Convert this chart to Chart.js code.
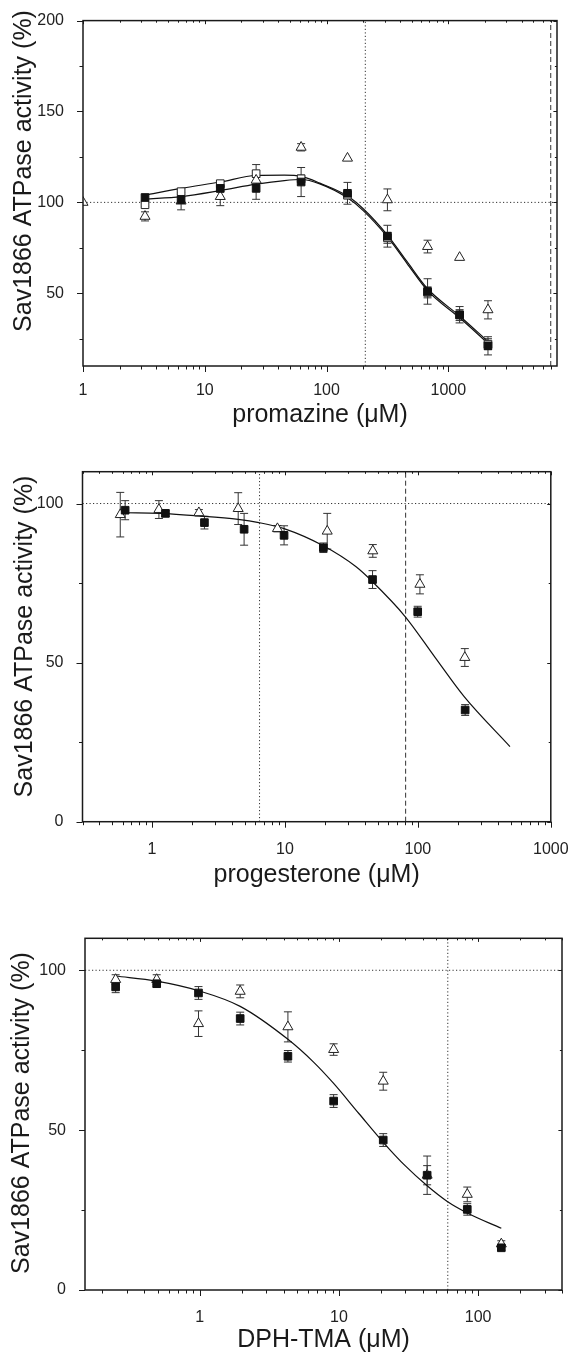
<!DOCTYPE html>
<html>
<head>
<meta charset="utf-8">
<script src="https://cdn.jsdelivr.net/npm/chart.js@4.4.1/dist/chart.umd.min.js"></script>
<style>
  html, body { margin: 0; padding: 0; background: #fff; }
  #wrap { position: relative; width: 579px; height: 1363px; }
  canvas { position: absolute; left: 0; }
</style>
</head>
<body>
<div id="wrap">
  <canvas id="promazine" width="579" height="440" style="top:0"></canvas>
  <canvas id="progesterone" width="579" height="455" style="top:440px"></canvas>
  <canvas id="dph" width="579" height="468" style="top:895px"></canvas>
</div>
<script>
// promazine
const promConc = [3.23, 6.39, 13.4, 26.4, 61.8, 148.5, 316, 675, 1237, 2115]
const promFilled = [102.7, 101.5, 107.7, 107.7, 111.2, 105, 81.4, 51, 38.2, 21.1]
const promFilledErr = [0, 1.5, 2, 6, 8, 6, 6, 7, 4.5, 5]
const promOpen = [98.7, 105.9, 110.3, 115.8, 113, 104, 80.5, 50.5, 38, 22]
const promOpenErr = [1, 1.5, 1.5, 5, 2, 2, 3, 3, 3, 3]
const promTriConc = [1, 3.23, 6.39, 13.4, 26.4, 61.8, 148.5, 316, 675, 1237, 2115]
const promTri = [100, 92.3, 100.7, 103.2, 112.2, 130.3, 124.3, 101.4, 75.7, 69.7, 40.9]
const promTriErr = [0, 2.5, 4.8, 5, 2, 2, 0, 6, 3.5, 0, 5]
const promFitConc = [3.23, 6.39, 13.4, 26.4, 45, 62, 88, 148.5, 200, 316, 457, 675, 1237, 2115]
const promFitOpen = [103.9, 107.7, 111.2, 114.8, 115, 114.3, 110.6, 103.5, 96.5, 82, 67.5, 52.5, 37.5, 23.5]
const promFitFilled = [101.8, 103.2, 106.5, 110, 112, 112.6, 110.2, 102.5, 95.5, 81, 66.5, 51.5, 36.5, 22.5]
const promDotted = 208
const promDashed = 6930
const promXMajor = [1, 10, 100, 1000]
const promYMajor = [50, 100, 150, 200]
const promYMinor = [25, 75, 125, 175]

// progesterone
const progConcF = [0.628, 1.262, 2.48, 4.93, 9.85, 19.45, 45.6, 99.7, 226.8]
const progFilled = [97.9, 96.9, 94, 91.9, 90, 86.1, 76.1, 66, 35.1]
const progFilledErr = [3, 1, 2, 5, 3, 1.5, 2.8, 1.7, 1.7]
const progConcT = [0.577, 1.127, 2.253, 4.45, 8.78, 20.8, 45.8, 103.6, 225.5]
const progTri = [96.5, 98.1, 97.1, 98.4, 92.1, 91.3, 85.1, 74.6, 51.6]
const progTriErr = [7, 2.8, 1, 5, 1, 5.6, 2, 3, 2.8]
const progFitConc = [0.628, 1.14, 2.25, 4.45, 6.36, 9.85, 19.45, 34.3, 45.6, 80.5, 133.8, 223, 493]
const progFit = [97.1, 96.9, 96.1, 95, 94, 92.1, 86.7, 80.1, 75.4, 64.4, 51.8, 39.3, 23.6]
const progDotted = 6.44
const progDashed = 80.9
const progXMajor = [1, 10, 100, 1000]
const progYMajor = [0, 50, 100]
const progYMinor = [25, 75]

// DPH-TMA
const dphConc = [0.249, 0.491, 0.98, 1.953, 4.3, 9.16, 20.8, 43, 83.5, 146.6]
const dphFilled = [94.8, 95.8, 92.9, 84.9, 73.1, 59.1, 46.9, 35.9, 25.2, 13.2]
const dphFilledErr = [1.8, 1, 2, 2, 1.8, 2, 2, 3, 1.8, 0.8]
const dphTri = [97.1, 97.1, 83.3, 93.4, 82.3, 75.2, 65.3, 35.9, 29.9, 14.4]
const dphTriErr = [1.5, 1.5, 4, 2, 4.7, 1.8, 2.8, 6, 2.3, 1]
const dphFitConc = [0.249, 0.491, 0.98, 1.953, 4.3, 6.6, 9.16, 13.9, 20.8, 30, 43, 60, 83.5, 146.6]
const dphFit = [98.2, 96.6, 93.6, 88.7, 78.4, 71.2, 64.6, 55.2, 46.2, 38.8, 32.6, 27.7, 24.1, 19.3]
const dphDotted = 60.5
const dphXMajor = [1, 10, 100]
const dphYMajor = [0, 50, 100]
const dphYMinor = [25, 75]

Chart.defaults.font.family = '"Liberation Sans", Arial, Helvetica, sans-serif'
Chart.defaults.color = '#1a1a1a'
Chart.defaults.animation = false

const filledSquare = { pointStyle: 'rect', pointRadius: 5.4, backgroundColor: '#111', borderColor: '#111' }
const openSquare = { pointStyle: 'rect', pointRadius: 5.4, backgroundColor: '#fff', borderColor: '#222' }
const openTriangle = { pointStyle: 'triangle', pointRadius: 5.8, backgroundColor: '#fff', borderColor: '#222' }

function points(xs, ys) {
    return xs.map((x, i) => ({ x: x, y: ys[i] }))
}

function markers(xs, ys, errs, style) {
    return Object.assign({
        data: points(xs, ys),
        errors: errs,
        showLine: false,
        borderWidth: 1,
        clip: 0,
        pointHoverRadius: style.pointRadius,
    }, style)
}

function fitLine(xs, ys) {
    return {
        data: points(xs, ys),
        showLine: true,
        pointRadius: 0,
        borderColor: '#111',
        borderWidth: 1.2,
        cubicInterpolationMode: 'monotone',
    }
}

function refLine(pts, dash) {
    return {
        data: pts,
        showLine: true,
        pointRadius: 0,
        borderColor: '#333',
        borderWidth: 1,
        borderDash: dash,
    }
}

const DOTS = [1.2, 2.3]
const DASHES = [5, 3]

// ticks 2..9 inside each decade
function logMinors(min, max) {
    const out = []
    for (let d = Math.floor(Math.log10(min)); d <= Math.ceil(Math.log10(max)); d++) {
        for (let m = 2; m <= 9; m++) {
            const v = +(m * Math.pow(10, d)).toPrecision(3)
            if (v >= min && v <= max) out.push(v)
        }
    }
    return out
}

const errorBars = {
    id: 'errorBars',
    beforeDatasetsDraw(chart) {
        const { ctx, scales: { x, y } } = chart
        ctx.save()
        ctx.strokeStyle = '#333'
        ctx.lineWidth = 1
        chart.data.datasets.forEach(ds => {
            if (!ds.errors) return
            ds.data.forEach((p, i) => {
                const e = ds.errors[i]
                if (!e) return
                const px = x.getPixelForValue(p.x)
                const top = y.getPixelForValue(p.y + e)
                const bot = y.getPixelForValue(p.y - e)
                ctx.beginPath()
                ctx.moveTo(px, top); ctx.lineTo(px, bot)
                ctx.moveTo(px - 4, top); ctx.lineTo(px + 4, top)
                ctx.moveTo(px - 4, bot); ctx.lineTo(px + 4, bot)
                ctx.stroke()
            })
        })
        ctx.restore()
    }
}

const frame = {
    id: 'frame',
    afterDraw(chart, args, opts) {
        const { ctx, chartArea: a, scales: { x, y } } = chart
        const seg = (x1, y1, x2, y2) => {
            ctx.beginPath(); ctx.moveTo(x1, y1); ctx.lineTo(x2, y2); ctx.stroke()
        }
        ctx.save()
        ctx.strokeStyle = '#1a1a1a'
        ctx.lineWidth = 1
        x.ticks.forEach(t => {
            const px = Math.round(x.getPixelForValue(t.value)) + 0.5
            const len = opts.xMajor.includes(t.value) ? 6 : 3.5
            seg(px, a.bottom, px, a.bottom + len)
            seg(px, a.top, px, a.top + len * 0.6)
        })
        y.ticks.forEach(t => {
            const py = Math.round(y.getPixelForValue(t.value)) + 0.5
            const len = opts.yMajor.includes(t.value) ? 6 : 3.5
            seg(a.left - len, py, a.left, py)
            seg(a.right - len * 0.6, py, a.right, py)
        })
        ctx.lineWidth = 1.5
        ctx.strokeRect(a.left, a.top, a.right - a.left, a.bottom - a.top)

        ctx.translate(opts.titleX, opts.titleY)
        ctx.rotate(-Math.PI / 2)
        ctx.font = '25px "Liberation Sans", Arial, sans-serif'
        ctx.fillStyle = '#1a1a1a'
        ctx.textAlign = 'center'
        ctx.textBaseline = 'middle'
        ctx.fillText(opts.yTitle, 0, 0)
        ctx.restore()
    }
}

function makePanel(id, p) {
    const xTicks = p.xMajor.concat(logMinors(p.xMin, p.xMax)).sort((a, b) => a - b)
    const yTicks = p.yMajor.concat(p.yMinor).sort((a, b) => a - b)
    return new Chart(document.getElementById(id), {
        type: 'scatter',
        data: { datasets: p.datasets },
        options: {
            responsive: false,
            events: [],
            layout: { padding: { left: 0, right: p.padRight, top: p.plotTop, bottom: 0 } },
            plugins: {
                legend: { display: false },
                tooltip: { enabled: false },
                frame: { xMajor: p.xMajor, yMajor: p.yMajor, yTitle: 'Sav1866 ATPase activity (%)', titleX: p.titleX, titleY: p.titleY },
            },
            scales: {
                x: {
                    type: 'logarithmic',
                    min: p.xMin,
                    max: p.xMax,
                    afterBuildTicks: s => { s.ticks = xTicks.map(v => ({ value: v })) },
                    afterFit: s => { s.height = p.xAxisHeight },
                    grid: { display: false },
                    border: { display: false },
                    ticks: {
                        autoSkip: false,
                        maxRotation: 0,
                        padding: p.xTickPad,
                        font: { size: 16 },
                        color: '#222',
                        callback: v => p.xMajor.includes(v) ? String(v) : '',
                    },
                    title: {
                        display: true,
                        text: p.xTitle,
                        font: { size: 25 },
                        color: '#1a1a1a',
                        padding: { top: 0, bottom: p.xTitlePad },
                    },
                },
                y: {
                    min: p.yMin,
                    max: p.yMax,
                    afterBuildTicks: s => { s.ticks = yTicks.map(v => ({ value: v })) },
                    afterFit: s => { s.width = p.plotLeft },
                    grid: { display: false },
                    border: { display: false },
                    ticks: {
                        autoSkip: false,
                        padding: 11,
                        font: { size: 16 },
                        color: '#222',
                        callback: v => p.yMajor.includes(v) ? String(v) : '',
                    },
                },
            },
        },
        plugins: [errorBars, frame],
    })
}

makePanel('promazine', {
    xMin: 1, xMax: 7800, yMin: 10, yMax: 200,
    xMajor: promXMajor, yMajor: promYMajor, yMinor: promYMinor,
    plotLeft: 83, padRight: 22, plotTop: 15.7, xAxisHeight: 74,
    xTickPad: 7.4, xTitlePad: 10, titleX: 24, titleY: 171,
    xTitle: 'promazine (\u03bcM)',
    datasets: [
        markers(promConc, promFilled, promFilledErr, filledSquare),
        markers(promTriConc, promTri, promTriErr, openTriangle),
        markers(promConc, promOpen, promOpenErr, openSquare),
        fitLine(promFitConc, promFitOpen),
        fitLine(promFitConc, promFitFilled),
        refLine([{ x: 1, y: 100 }, { x: 7800, y: 100 }], DOTS),
        refLine([{ x: promDotted, y: 10 }, { x: promDotted, y: 200 }], DOTS),
        refLine([{ x: promDashed, y: 10 }, { x: promDashed, y: 200 }], DASHES),
    ],
})

makePanel('progesterone', {
    xMin: 0.3, xMax: 1000, yMin: 0, yMax: 110,
    xMajor: progXMajor, yMajor: progYMajor, yMinor: progYMinor,
    plotLeft: 82.5, padRight: 20, plotTop: 31.7, xAxisHeight: 73.3,
    xTickPad: 10.4, xTitlePad: 5, titleX: 25, titleY: 196.5,
    xTitle: 'progesterone (\u03bcM)',
    datasets: [
        markers(progConcF, progFilled, progFilledErr, filledSquare),
        markers(progConcT, progTri, progTriErr, openTriangle),
        fitLine(progFitConc, progFit),
        refLine([{ x: 0.3, y: 100 }, { x: 1000, y: 100 }], DOTS),
        refLine([{ x: progDotted, y: 0 }, { x: progDotted, y: 110 }], DOTS),
        refLine([{ x: progDashed, y: 0 }, { x: progDashed, y: 110 }], DASHES),
    ],
})

makePanel('dph', {
    xMin: 0.15, xMax: 400, yMin: 0, yMax: 110,
    xMajor: dphXMajor, yMajor: dphYMajor, yMinor: dphYMinor,
    plotLeft: 85, padRight: 17, plotTop: 43.3, xAxisHeight: 73,
    xTickPad: 10.4, xTitlePad: 8, titleX: 22, titleY: 218,
    xTitle: 'DPH-TMA (\u03bcM)',
    datasets: [
        markers(dphConc, dphFilled, dphFilledErr, filledSquare),
        markers(dphConc, dphTri, dphTriErr, openTriangle),
        fitLine(dphFitConc, dphFit),
        refLine([{ x: 0.15, y: 100 }, { x: 400, y: 100 }], DOTS),
        refLine([{ x: dphDotted, y: 0 }, { x: dphDotted, y: 110 }], DOTS),
    ],
})
</script>
</body>
</html>
